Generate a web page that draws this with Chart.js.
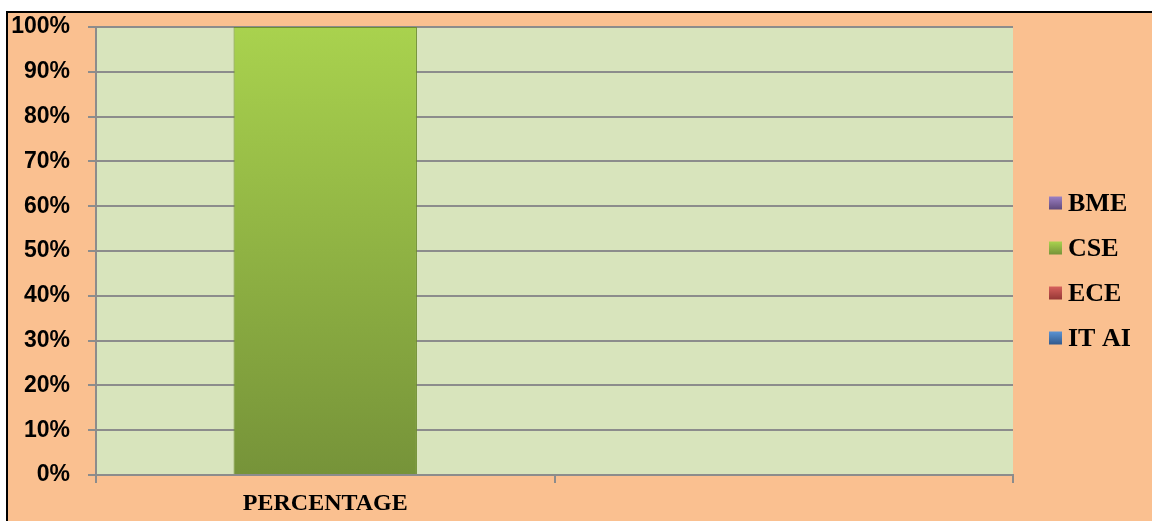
<!DOCTYPE html>
<html>
<head>
<meta charset="utf-8">
<script src="https://cdn.jsdelivr.net/npm/chart.js@4/dist/chart.umd.min.js"></script>
<style>
  html, body { margin: 0; padding: 0; background: #ffffff; width: 1152px; height: 521px; overflow: hidden; }
  #frame { position: absolute; left: 6px; top: 11px; width: 1144px; height: 508px;
           background: #fac090; border-left: 2px solid #000; border-top: 2px solid #000; }
  #box { position: absolute; left: 0; top: 0; width: 1144px; height: 508px; }
</style>
</head>
<body>
<div id="frame"><div id="box"><canvas id="c"></canvas></div></div>
<script>
const categories = ['PERCENTAGE', ''];
const seriesNames = ['BME', 'CSE', 'ECE', 'IT AI'];
const bmeValues = [0, 0];
const cseValues = [100, 0];
const eceValues = [0, 0];
const itaiValues = [0, 0];
const yTickStep = 10;
const yMax = 100;

const colors = {
  'BME':   ['#9b80c4', '#60497a'],
  'CSE':   ['#a9d24e', '#769339'],
  'ECE':   ['#d6605c', '#953735'],
  'IT AI': ['#5b93d3', '#31598c']
};

function vGrad(ctx, top, bottom, c0, c1) {
  const g = ctx.createLinearGradient(0, top, 0, bottom);
  g.addColorStop(0, c0);
  g.addColorStop(1, c1);
  return g;
}

function barFill(name) {
  return function(context) {
    const chart = context.chart;
    const area = chart.chartArea;
    if (!area) return colors[name][0];
    return vGrad(chart.ctx, area.top, area.bottom, colors[name][0], colors[name][1]);
  };
}

const valuesByName = { 'BME': bmeValues, 'CSE': cseValues, 'ECE': eceValues, 'IT AI': itaiValues };

const datasets = seriesNames.map(n => ({
  label: n,
  data: valuesByName[n],
  backgroundColor: barFill(n),
  borderColor: '#6f8d30',
  borderWidth: valuesByName[n].map(v => v > 0 ? 1 : 0),
  categoryPercentage: 1.0,
  barPercentage: 0.4
}));

const plotBg = {
  id: 'plotBg',
  beforeDraw(chart) {
    const { ctx, chartArea: a } = chart;
    ctx.save();
    ctx.fillStyle = '#d8e4bc';
    ctx.fillRect(a.left, a.top, a.right - a.left, a.bottom - a.top);
    ctx.restore();
  }
};

const sideLegend = {
  id: 'sideLegend',
  afterDraw(chart) {
    const ctx = chart.ctx;
    const boxX = 1041, textX = 1060, firstY = 190, step = 45, size = 13;
    ctx.save();
    ctx.font = 'bold 26px "Liberation Serif", "Times New Roman", serif';
    ctx.textBaseline = 'middle';
    ctx.textAlign = 'left';
    chart.data.datasets.forEach((ds, i) => {
      const y = firstY + i * step;
      const c = colors[ds.label];
      ctx.fillStyle = vGrad(ctx, y - size / 2, y + size / 2, c[0], c[1]);
      ctx.fillRect(boxX, y - size / 2, size, size);
      ctx.fillStyle = '#000';
      ctx.fillText(ds.label, textX, y + 1);
    });
    ctx.restore();
  }
};

new Chart(document.getElementById('c'), {
  type: 'bar',
  data: { labels: categories, datasets: datasets },
  options: {
    responsive: true,
    maintainAspectRatio: false,
    animation: false,
    layout: { padding: { top: 0, right: 139, left: 0, bottom: 0 } },
    plugins: {
      legend: { display: false },
      tooltip: { enabled: false }
    },
    scales: {
      x: {
        stacked: true,
        offset: true,
        afterFit(scale) { scale.height = 46; },
        grid: {
          offset: true,
          drawOnChartArea: false,
          drawTicks: true,
          tickLength: 8,
          color: '#8c8c8c',
          lineWidth: 2
        },
        border: { display: true, color: '#8c8c8c', width: 2 },
        ticks: {
          color: '#000',
          padding: 6,
          font: { family: '"Liberation Serif", "Times New Roman", serif', size: 24, weight: 'bold' }
        }
      },
      y: {
        stacked: true,
        min: 0,
        max: yMax,
        afterFit(scale) { scale.width = 88; scale.paddingTop = 14; scale.paddingBottom = 14; },
        grid: {
          color: '#8c8c8c',
          lineWidth: 2,
          tickLength: 8
        },
        border: { display: true, color: '#8c8c8c', width: 2 },
        ticks: {
          stepSize: yTickStep,
          color: '#000',
          padding: 18,
          font: { family: '"Liberation Sans", Arial, sans-serif', size: 23, weight: 'bold' },
          callback: v => v + '%'
        }
      }
    }
  },
  plugins: [plotBg, sideLegend]
});
</script>
</body>
</html>
